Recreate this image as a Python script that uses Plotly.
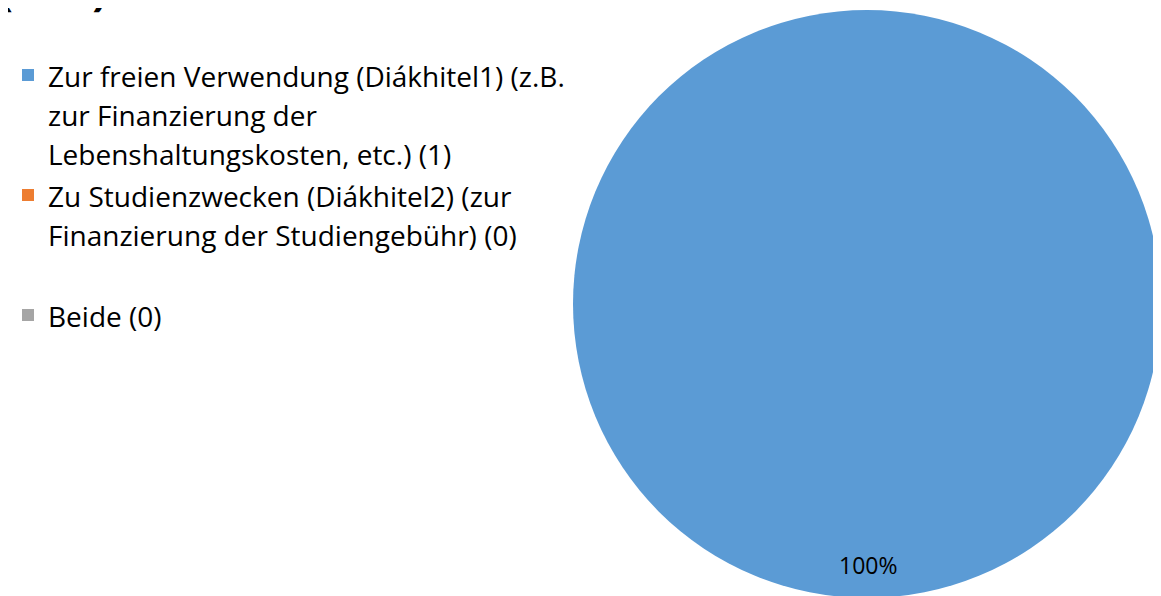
import textwrap

import plotly.graph_objects as go

# Daten
categories = [
    "Zur freien Verwendung (Diákhitel1) (z.B. zur Finanzierung der Lebenshaltungskosten, etc.) (1)",
    "Zu Studienzwecken (Diákhitel2) (zur Finanzierung der Studiengebühr) (0)",
    "Beide (0)",
]
values = [1, 0, 0]
colors = ["#5B9BD5", "#ED7D31", "#A5A5A5"]
title_text = "(n=1)"

FONT = "'Open Sans', Calibri, Carlito, sans-serif"
W, H = 1161, 596


def legend_label(text, extra_line=False):
    lines = textwrap.wrap(text, width=40)
    if extra_line:
        lines.append("&nbsp;")
    return "<span style='font-size:28px'>" + "<br>".join(lines) + "</span>"


labels = [legend_label(c, extra_line=(i == 1)) for i, c in enumerate(categories)]
share = values[0] / sum(values)

fig = go.Figure()
fig.add_trace(go.Pie(
    labels=labels, values=values, sort=False, direction="clockwise",
    marker=dict(colors=colors), textinfo="none", hoverinfo="label+percent",
    domain=dict(x=[565 / W, 1153 / W], y=[6 / H, 594 / H]),
))

# Prozentbeschriftung im Kreis (unten, wie im Original)
fig.add_annotation(text=f"{share:.0%}", x=860 / W, y=1 - 557 / H,
                   xref="paper", yref="paper", xanchor="center", yanchor="middle",
                   showarrow=False, font=dict(size=23, color="#000000", family=FONT))

# abgeschnittener Titel oben links (nur die Klammern ragen ins Bild)
fig.add_annotation(text=f"<b>{title_text}</b>", x=-12 / W, y=1 - 12 / H,
                   xref="paper", yref="paper", xanchor="left", yanchor="bottom",
                   showarrow=False, font=dict(size=44, color="#000000", family=FONT))

fig.update_layout(
    width=W, height=H,
    margin=dict(l=0, r=0, t=0, b=0),
    paper_bgcolor="white", plot_bgcolor="white",
    font=dict(family=FONT, color="#000000"),
    legend=dict(x=0, y=1 - 41 / H, xanchor="left", yanchor="top",
                valign="top", font=dict(size=30, family=FONT),
                bgcolor="rgba(0,0,0,0)"),
)

fig.write_html("out.html")
